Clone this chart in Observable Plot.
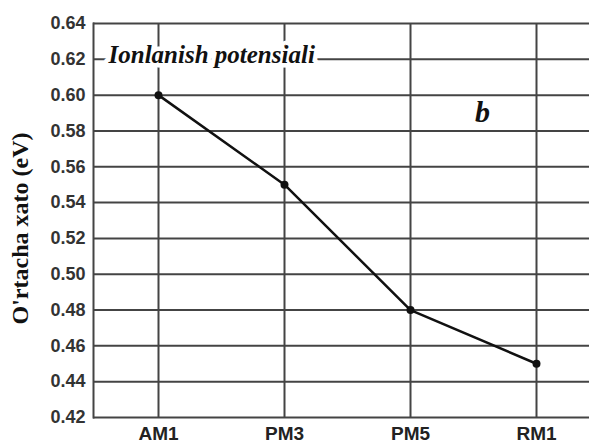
<!DOCTYPE html>
<html>
<head>
<meta charset="utf-8">
<script src="https://cdn.jsdelivr.net/npm/d3@7"></script>
<script src="https://cdn.jsdelivr.net/npm/@observablehq/plot@0.6"></script>
<style>
  html, body { margin: 0; padding: 0; background: #fff; }
  #chart svg { display: block; }
</style>
</head>
<body>
<div id="chart"></div>
<script>
const categories = ["AM1", "PM3", "PM5", "RM1"];
const values = [0.60, 0.55, 0.48, 0.45];
const yTicks = [0.42, 0.44, 0.46, 0.48, 0.50, 0.52, 0.54, 0.56, 0.58, 0.60, 0.62, 0.64];
const yLabel = "O'rtacha xato (eV)";
const titleText = "Ionlanish potensiali";
const panelLetter = "b";

const data = categories.map((c, i) => ({cat: c, val: values[i]}));
const gridColor = "#444";

const chart = Plot.plot({
  width: 589,
  height: 446,
  marginTop: 23,
  marginBottom: 29,
  marginLeft: 93,
  marginRight: 0,
  style: {background: "#fff", overflow: "visible"},
  x: {type: "point", domain: categories, range: [157, 536], padding: 0, label: null},
  y: {domain: [0.42, 0.64], label: null},
  marks: [
    Plot.ruleY(yTicks, {stroke: gridColor, strokeWidth: 2}),
    Plot.ruleX(categories, {x: d => d, stroke: gridColor, strokeWidth: 2}),
    Plot.frame({anchor: "left", stroke: gridColor, strokeWidth: 2}),
    Plot.text([titleText], {
      frameAnchor: "top-left", dx: 15, dy: 31, text: d => d,
      textAnchor: "start", lineAnchor: "middle",
      fontFamily: "Liberation Serif", fontWeight: "bold", fontStyle: "italic",
      fontSize: 25, fill: "#111", stroke: "#fff", strokeWidth: 9
    }),
    Plot.text([panelLetter], {
      frameAnchor: "top-left", dx: 389, dy: 89, text: d => d,
      textAnchor: "middle", lineAnchor: "middle",
      fontFamily: "Liberation Serif", fontWeight: "bold", fontStyle: "italic",
      fontSize: 30, fill: "#111", stroke: "#fff", strokeWidth: 6
    }),
    Plot.line(data, {x: "cat", y: "val", stroke: "#111", strokeWidth: 2.5}),
    Plot.dot(data, {x: "cat", y: "val", r: 4, fill: "#111", stroke: "none"}),
    Plot.axisY(yTicks, {
      tickSize: 0, tickPadding: 8, tickFormat: d => d.toFixed(2),
      fontFamily: "Liberation Sans", fontWeight: "bold", fontSize: 18, fill: "#333",
      label: null
    }),
    Plot.axisX(categories, {
      tickSize: 0, tickPadding: 9,
      fontFamily: "Liberation Sans", fontWeight: "bold", fontSize: 19, fill: "#222",
      label: null
    }),
    Plot.text([yLabel], {
      frameAnchor: "left", dx: -73, dy: 8, rotate: -90, text: d => d,
      textAnchor: "middle", lineAnchor: "middle",
      fontFamily: "Liberation Serif", fontWeight: "bold", fontSize: 24, fill: "#111"
    })
  ]
});
document.getElementById("chart").appendChild(chart);
</script>
</body>
</html>
